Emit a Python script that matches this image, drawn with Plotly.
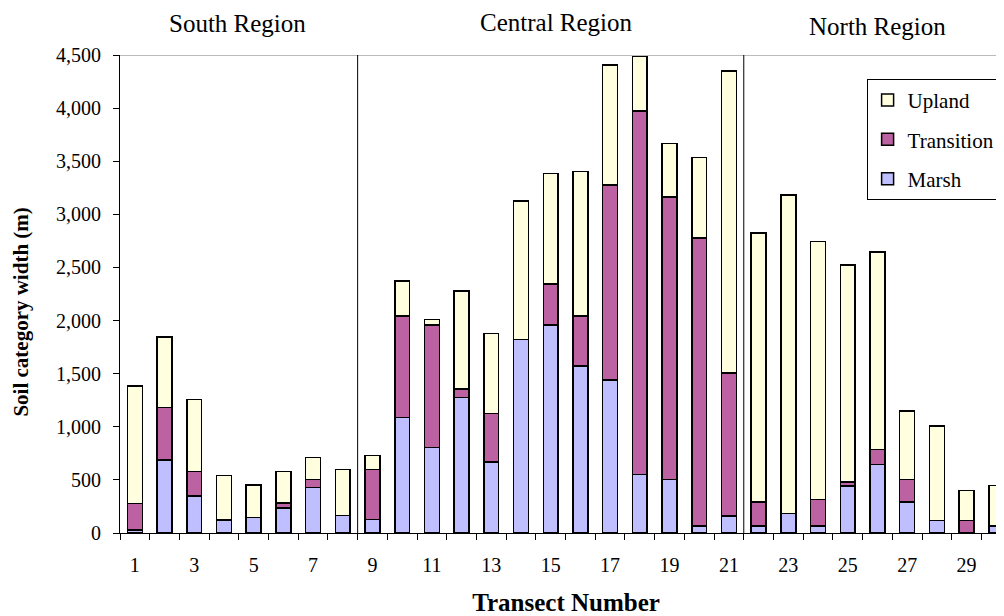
import plotly.graph_objects as go

transects = list(range(1, 31))
marsh = [30, 685, 349, 120, 145, 236, 428, 164, 126, 1087, 804, 1275, 669, 1822, 1957,
         1570, 1439, 553, 503, 66, 160, 66, 183, 66, 443, 647, 292, 120, 5, 66]
transition = [247, 496, 229, 8, 0, 47, 75, 0, 471, 957, 1153, 79, 456, 0, 386,
              471, 1837, 3420, 2662, 2713, 1347, 226, 0, 249, 35, 139, 211, 0, 115, 0]
upland = [1108, 662, 679, 413, 307, 298, 207, 433, 135, 330, 53, 923, 753, 1303, 1043,
          1360, 1130, 511, 503, 758, 2843, 2534, 2998, 2430, 2044, 1861, 644, 888, 282, 383]
tick_labels = [str(i) for i in range(1, 30, 2)]
regions = ["South Region", "Central Region", "North Region"]
region_bounds = [8.5, 21.5]

FONT = "Liberation Serif"
colors = {"Marsh": "#BFBFFF", "Transition": "#BC62A2", "Upland": "#FFFFE0"}
ranks = {"Upland": 1, "Transition": 2, "Marsh": 3}

fig = go.Figure()
for name, vals in [("Marsh", marsh), ("Transition", transition), ("Upland", upland)]:
    fig.add_trace(go.Bar(
        x=transects, y=vals, name=name, legendgroup=name, legendrank=ranks[name],
        width=0.5,
        marker=dict(color=colors[name], line=dict(color="black", width=1.5)),
    ))

fig.update_layout(
    width=1004, height=616,
    margin=dict(l=112, r=0, t=47, b=91),
    barmode="stack",
    plot_bgcolor="white", paper_bgcolor="white",
    font=dict(family=FONT, size=20, color="black"),
    showlegend=True,
    legend=dict(
        x=0.837, y=0.95, xanchor="left", yanchor="top",
        bordercolor="black", borderwidth=1, bgcolor="white",
        font=dict(family=FONT, size=21),
        traceorder="grouped", tracegroupgap=9, itemwidth=30,
    ),
)

fig.update_xaxes(
    range=[0.5, 30.53],
    tickmode="array", tickvals=list(range(1, 30, 2)), ticktext=tick_labels,
    ticks="", showgrid=False, zeroline=False,
    showline=True, linecolor="black", linewidth=1,
    minor=dict(tickvals=[i + 0.5 for i in range(0, 30)], ticks="outside",
               ticklen=6, tickcolor="black", tickwidth=1),
    tickfont=dict(size=20), ticklabelstandoff=14,
    title=dict(text="<b>Transect Number</b>", font=dict(size=25), standoff=18),
)
fig.update_yaxes(
    range=[0, 4500], dtick=500, tickformat=",",
    ticks="outside", ticklen=6, tickcolor="black",
    showgrid=False, zeroline=False,
    showline=True, linecolor="black", linewidth=1,
    tickfont=dict(size=20), ticklabelstandoff=8,
)

# y-axis title placed as rotated annotation
fig.add_annotation(text="<b>Soil category width (m)</b>", textangle=-90,
                   xref="paper", x=-0.1105, yref="paper", y=0.462,
                   xanchor="center", yanchor="middle", showarrow=False,
                   font=dict(family=FONT, size=21, color="black"))

# top border of plot area
fig.add_shape(type="line", xref="paper", x0=0, x1=1, yref="y", y0=4500, y1=4500,
              line=dict(color="#BBBBBB", width=2), layer="below")
# region dividers
for b in region_bounds:
    fig.add_shape(type="line", xref="x", x0=b, x1=b, yref="y", y0=0, y1=4500,
                  line=dict(color="black", width=1))

region_x = [4.47, 15.2, 26.0]
region_y = [1.065, 1.069, 1.059]
for txt, rx, ry in zip(regions, region_x, region_y):
    fig.add_annotation(text=txt, x=rx, xref="x", y=ry, yref="paper",
                       showarrow=False, xanchor="center", yanchor="middle",
                       font=dict(family=FONT, size=25, color="black"))

fig.write_html("out.html")
